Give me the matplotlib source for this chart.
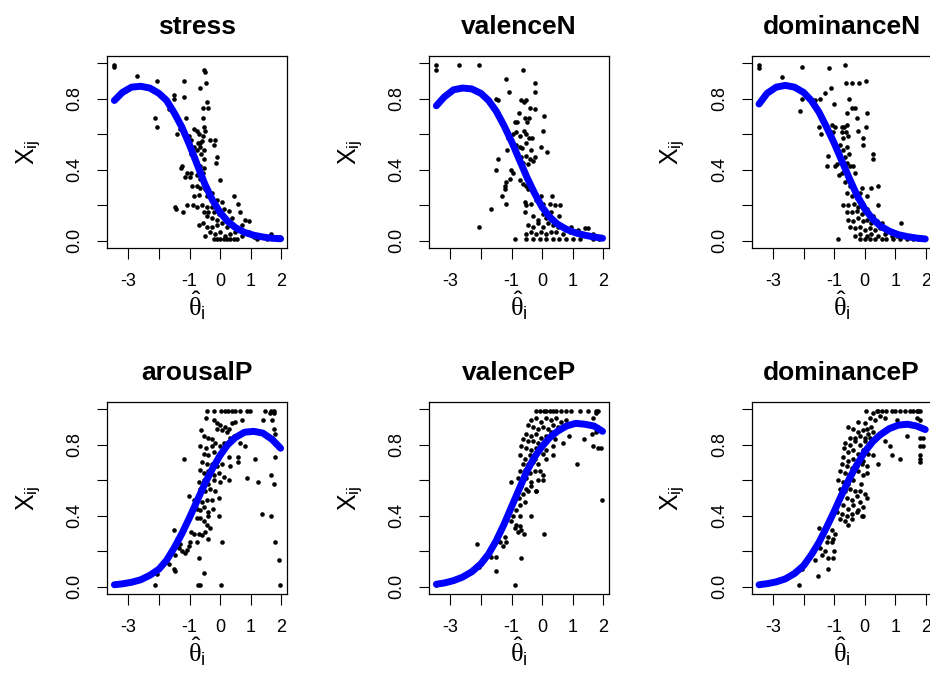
import matplotlib
matplotlib.use("Agg")
import matplotlib.pyplot as plt

plt.rcParams['font.family'] = ['Liberation Sans', 'DejaVu Sans']
plt.rcParams['mathtext.fontset'] = 'custom'
plt.rcParams['mathtext.rm'] = 'Liberation Sans'
plt.rcParams['mathtext.it'] = 'Liberation Serif'
plt.rcParams['mathtext.bf'] = 'Liberation Sans:bold'

titles = ["stress", "valenceN", "dominanceN", "arousalP", "valenceP", "dominanceP"]
x_ticks = [-3, -2, -1, 0, 1, 2]
x_ticklabels = ["-3", "", "-1", "0", "1", "2"]
y_ticks = [0.0, 0.2, 0.4, 0.6, 0.8, 1.0]
y_ticklabels = ["0.0", "", "0.4", "", "0.8", ""]

# ---- observed points ----
stress_x = [-3.48, -3.48, -2.72, -2.06, -1.19, -2.14, -2.06, -1.50, -1.50, -1.17, -1.12, -1.68, -1.41, -1.32, -1.28, -1.46, -1.43, -1.22,
            -0.54, -0.48, -0.45, -0.65, -0.56, -0.43, -0.40, -0.57,
            -0.84, -0.76, -0.70, -0.54, -0.48, -0.57, -1.03, -0.94,
            -0.72, -0.65, -0.58, -0.34, -0.16, -0.21,
            -0.86, -0.76, -0.65, -0.52, -0.94, -0.81, -0.61,
            -0.52, -0.10, -0.13, -0.65, -0.54,
            -1.25, -1.08, -0.94, -1.14, -0.97,
            -0.76, -0.65, -0.56, 0.01,
            -0.92, -0.76, -0.65, -0.48,
            -0.86, -0.70, -0.43,
            -0.27, -0.10, 0.06, 0.44,
            -1.08, -0.89, -0.76, -0.59, -0.43,
            -0.27, -0.10, 0.12, 0.28, 0.57,
            -0.54, -0.38, -0.21, -0.05,
            -0.43, -0.27, -0.10, 0.12, 0.22, 0.39, 0.66, 0.82,
            -0.70, -0.56, -0.43, -0.27, -0.10, 0.06, 0.22, 0.39, 0.50, 0.71, 0.93,
            -0.48, -0.32, -0.16, 0.01, 0.17, 0.33, 0.50, 0.71, 0.99,
            -0.21, -0.10, 0.01, 0.12, 0.22, 0.33, 0.44, 0.55,
            1.20, 1.37, 1.53, 1.67, 1.86, 1.97, 0.93, 1.10]
stress_y = [0.99, 0.98, 0.93, 0.90, 0.90, 0.69, 0.64, 0.82, 0.80, 0.81, 0.69, 0.74, 0.60, 0.63, 0.41, 0.19, 0.18, 0.16,
            0.96, 0.95, 0.89, 0.86, 0.75, 0.78, 0.75, 0.69,
            0.63, 0.62, 0.60, 0.64, 0.62, 0.59, 0.59, 0.57,
            0.55, 0.55, 0.56, 0.57, 0.57, 0.54,
            0.53, 0.51, 0.53, 0.51, 0.49, 0.47, 0.49,
            0.46, 0.47, 0.44, 0.42, 0.41,
            0.42, 0.38, 0.38, 0.36, 0.36,
            0.37, 0.35, 0.38, 0.34,
            0.31, 0.31, 0.30, 0.29,
            0.25, 0.26, 0.25,
            0.27, 0.23, 0.22, 0.25,
            0.20, 0.20, 0.19, 0.20, 0.19,
            0.19, 0.17, 0.18, 0.17, 0.21,
            0.16, 0.16, 0.16, 0.15,
            0.14, 0.13, 0.12, 0.13, 0.12, 0.13, 0.16, 0.12,
            0.09, 0.10, 0.08, 0.08, 0.09, 0.10, 0.08, 0.09, 0.07, 0.09, 0.11,
            0.03, 0.05, 0.04, 0.05, 0.03, 0.04, 0.05, 0.03, 0.04,
            0.01, 0.01, 0.01, 0.01, 0.01, 0.01, 0.01, 0.01,
            0.01, 0.02, 0.01, 0.04, 0.02, 0.02, 0.05, 0.02]

valenceN_x = [-3.48, -3.48, -2.72, -2.06, -0.63, -1.17, -0.22, -0.22, -1.08, -2.13, -1.50, -1.43, -1.44,
              -0.68, -0.60, -0.52, -0.39, -0.23, -0.76, 0.08,
              -0.90, -0.82, -0.55, -0.49, -0.44, 0.03,
              -0.95, -0.86, -0.73, -0.60, -0.52, -0.43, -0.32, -1.12, -1.04,
              -0.84, -0.73, -0.65, -0.52, -0.35, -0.05, 0.16, -1.15,
              -0.82, -0.68, -0.52, -0.41, -0.24,
              -0.63, -0.46, -0.30, -1.44, -1.50,
              -1.01, -0.95, -1.06, -1.19, -1.22, -1.22,
              -0.73, -0.63, -0.52, -0.46, -1.30, -1.19, -1.66, -2.06,
              -0.57, -0.52, -0.35, -0.19, -0.03, 0.03, 0.25, 0.33, 0.44, 0.59,
              -0.55, -0.30, -0.14, 0.03, 0.14, 0.30, 0.57,
              -0.46, -0.30, -0.14, 0.03, 0.19, 0.36, 0.52, 0.74, 0.95,
              -0.52, -0.35, -0.19, -0.03, 0.14, 0.30, 0.46, 0.68, 0.90, 1.17, 1.39, 1.50, 1.66,
              -0.90, -0.52, -0.30, -0.08, 0.14, 0.36, 0.57, 0.79, 1.01, 1.23, 1.66, 1.88]
valenceN_y = [0.99, 0.96, 0.99, 0.99, 0.96, 0.91, 0.89, 0.84, 0.84, 0.84, 0.80, 0.79, 0.72,
              0.79, 0.78, 0.79, 0.75, 0.74, 0.72, 0.70,
              0.67, 0.67, 0.69, 0.67, 0.69, 0.62,
              0.60, 0.61, 0.59, 0.62, 0.60, 0.58, 0.58, 0.58, 0.57,
              0.54, 0.53, 0.52, 0.55, 0.51, 0.53, 0.50, 0.51,
              0.48, 0.47, 0.48, 0.46, 0.47,
              0.44, 0.43, 0.45, 0.46, 0.40,
              0.40, 0.38, 0.35, 0.33, 0.31, 0.29,
              0.34, 0.32, 0.31, 0.29, 0.25, 0.21, 0.18, 0.08,
              0.22, 0.20, 0.21, 0.23, 0.25, 0.21, 0.21, 0.25, 0.20, 0.20,
              0.16, 0.14, 0.12, 0.15, 0.13, 0.16, 0.14,
              0.09, 0.08, 0.10, 0.08, 0.10, 0.09, 0.08, 0.08, 0.08,
              0.04, 0.05, 0.04, 0.05, 0.04, 0.05, 0.05, 0.04, 0.05, 0.06, 0.07, 0.07, 0.04,
              0.01, 0.01, 0.01, 0.01, 0.01, 0.01, 0.01, 0.01, 0.01, 0.01, 0.01, 0.01]

dominanceN_x = [-3.46, -3.46, -2.72, -2.04, -1.17, -0.65, -0.63, -0.43, -0.19, 0.03, -1.12, -1.30, -1.46, -1.63, -2.04, -2.12, -0.52, -1.01,
                -0.43, -0.32, -0.59, -0.24, 0.06,
                -1.49, -1.44, -1.08, -0.99, -1.03,
                -0.76, -0.67, -0.59, -0.76, -0.61, -0.70, -0.54,
                -0.21, -0.07, 0.04, -0.05,
                -0.81, -0.70, -0.59, -0.51, -0.65, -0.76, -0.59, -0.48,
                0.26, 0.26, -1.21, -0.92, -1.22, -0.99, -0.37, -0.32,
                -0.83, -0.76, -0.65, -0.54,
                -0.48, -0.37, -0.10, 0.22, 0.44,
                -0.59, -0.43, -0.27, -0.16, 0.06,
                -0.70, -0.54, -0.35, -0.21, -0.05, 0.06, 0.44,
                -0.59, -0.43, -0.27, -0.10, 0.01, 0.12, 0.28,
                -0.54, -0.37, -0.21, -0.05, 0.06, 0.22, 0.39, 0.55, 1.20,
                -0.48, -0.32, -0.16, 0.01, 0.17, 0.33, 0.50, 0.71,
                -0.32, -0.16, 0.06, 0.22, 0.44, 0.66, 0.88, 1.04,
                -0.89, -0.16, 0.01, 0.17, 0.33, 0.55, 0.71, 0.93, 1.15, 1.37, 1.59, 1.75]
dominanceN_y = [0.99, 0.97, 0.92, 0.98, 0.97, 0.99, 0.89, 0.89, 0.89, 0.90, 0.86, 0.83, 0.80, 0.79, 0.80, 0.73, 0.80, 0.77,
                0.75, 0.75, 0.72, 0.69, 0.72,
                0.64, 0.60, 0.65, 0.64, 0.61,
                0.64, 0.64, 0.65, 0.61, 0.61, 0.58, 0.59,
                0.62, 0.58, 0.64, 0.54,
                0.54, 0.51, 0.53, 0.49, 0.47, 0.46, 0.44, 0.42,
                0.49, 0.46, 0.48, 0.43, 0.42, 0.42, 0.42, 0.38,
                0.37, 0.38, 0.33, 0.35,
                0.31, 0.31, 0.30, 0.30, 0.31,
                0.27, 0.25, 0.24, 0.27, 0.25,
                0.20, 0.20, 0.21, 0.19, 0.21, 0.18, 0.20,
                0.16, 0.16, 0.17, 0.15, 0.16, 0.16, 0.14,
                0.12, 0.11, 0.13, 0.11, 0.12, 0.10, 0.11, 0.10, 0.10,
                0.08, 0.07, 0.08, 0.06, 0.07, 0.06, 0.07, 0.05,
                0.03, 0.04, 0.03, 0.04, 0.03, 0.04, 0.03, 0.03,
                0.01, 0.01, 0.01, 0.01, 0.01, 0.01, 0.01, 0.01, 0.01, 0.01, 0.01, 0.01]

arousalP_x = [-0.43, -0.19, 0.04, 0.15, 0.26, 0.39, 0.50, 0.66, 0.88, 0.99, 1.48, 1.66, 1.75, 1.64, 1.77,
              -0.45, 0.71, 1.42, 1.69,
              -0.21, -0.10, 0.01, 0.17, 0.28, 0.39, 0.50,
              -0.10, 0.06, 0.22, 0.44, 0.33,
              -0.63, -0.52, -0.38, -0.27, -0.16,
              1.75, 1.80,
              -0.65, -0.45, -0.27, 0.01, 0.12, 0.66, 0.80,
              -0.54, -0.38, -0.21, -0.05, 0.12, -1.19,
              0.28, 0.57, 1.15, 1.80,
              -0.59, -0.43, -0.27, -0.10, 0.06, 0.33, 0.57,
              -0.65, -0.52, -0.38, -0.21, -0.05, 0.12,
              1.66, 0.88, 1.23, 1.75,
              -0.70, -0.54, -0.38, -0.21, 0.01, 0.28,
              -0.65, -0.48, -0.32, -0.16,
              -1.03, -0.86, -0.76, -0.59, -0.43, -0.27, -0.05,
              -0.76, -0.65, -0.52, -0.38, -0.24, 1.37, 1.66, -0.05,
              -0.76, -0.65, -0.54, -0.43, -0.38,
              -0.95, -0.86, -0.70, -0.59, -0.48, -0.34, -1.50,
              -1.41, -1.30, -1.00, -0.76, -0.40, 0.05, 1.80,
              -1.25, -1.14, -1.08, -1.03, -1.46, -1.35,
              -1.68, -1.52, -1.46, -0.70, -0.54, 1.93, -2.06,
              -2.12, -0.72, -0.67, 0.04, 1.97]
arousalP_y = [0.99, 0.99, 0.99, 0.99, 0.99, 0.99, 0.99, 0.99, 0.99, 0.99, 0.99, 0.99, 0.99, 0.98, 0.98,
              0.95, 0.94, 0.94, 0.94,
              0.94, 0.92, 0.91, 0.90, 0.89, 0.92, 0.93,
              0.89, 0.88, 0.87, 0.85, 0.84,
              0.88, 0.85, 0.84, 0.83, 0.81,
              0.89, 0.86,
              0.79, 0.78, 0.79, 0.79, 0.81, 0.81, 0.79,
              0.75, 0.74, 0.76, 0.73, 0.77, 0.72,
              0.73, 0.73, 0.72, 0.73,
              0.70, 0.69, 0.69, 0.68, 0.69, 0.68, 0.70,
              0.66, 0.64, 0.65, 0.63, 0.64, 0.62,
              0.63, 0.61, 0.59, 0.58,
              0.59, 0.60, 0.58, 0.60, 0.59, 0.60,
              0.55, 0.54, 0.55, 0.54,
              0.51, 0.49, 0.49, 0.48, 0.49, 0.49, 0.50,
              0.44, 0.43, 0.45, 0.42, 0.44, 0.41, 0.40, 0.40,
              0.39, 0.39, 0.37, 0.35, 0.40,
              0.31, 0.30, 0.30, 0.29, 0.31, 0.33, 0.32,
              0.27, 0.24, 0.25, 0.25, 0.27, 0.25, 0.25,
              0.20, 0.19, 0.21, 0.23, 0.18, 0.22,
              0.13, 0.10, 0.09, 0.16, 0.08, 0.15, 0.07,
              0.01, 0.01, 0.01, 0.01, 0.01]

valenceP_x = [-0.19, -0.06, 0.05, 0.14, 0.25, 0.36, 0.46, 0.63, 0.79, 0.95, 1.23, 1.50, 1.75, 1.83, 1.77,
              -0.35, -0.19, -0.03, 0.14, 0.30, 0.46, 0.63, 0.79, 1.66,
              -0.46, -0.30, -0.14, 0.03, 0.19, 0.36, 0.52,
              1.83, 1.64, 1.77,
              -0.52, -0.35, -0.19, -0.03, 0.14, 0.30,
              0.88, 1.36,
              -0.63, -0.46, -0.30, -0.14, 0.03, 0.41,
              0.68, 0.36,
              1.66, 1.83, 1.93,
              -0.68, -0.52, -0.35, -0.19, 0.03, 0.14,
              -0.73, -0.57, -0.41, -0.24, 0.36,
              -0.63, -0.46, -0.30, -0.14, 0.12,
              1.15,
              -0.73, -0.57, -0.41, -0.24, -0.08, 0.03,
              -0.79, -0.64, -0.52, -0.35, -0.14, 0.03,
              -1.01,
              -0.68, -0.52, -0.35, -0.19,
              -0.64, -0.46, -0.21,
              -0.76, -0.73, -0.57, -0.35,
              1.97,
              -0.95, -0.84, -0.73, -1.01,
              -0.84, -0.73, -0.79, -0.68, -0.60, -0.90,
              0.05,
              -1.22, -1.17, -1.28, -1.39, -1.44,
              -2.13, -1.66, -1.50, -0.69, -2.06, -1.50, -2.72, -0.90, -3.48]
valenceP_y = [0.99, 0.99, 0.99, 0.99, 0.99, 0.99, 0.99, 0.99, 0.99, 0.99, 0.99, 0.99, 0.99, 0.99, 0.98,
              0.94, 0.95, 0.93, 0.95, 0.94, 0.95, 0.93, 0.94, 0.95,
              0.91, 0.90, 0.89, 0.90, 0.89, 0.91, 0.90,
              0.90, 0.86, 0.87,
              0.86, 0.85, 0.86, 0.84, 0.85, 0.87,
              0.85, 0.83,
              0.83, 0.82, 0.82, 0.81, 0.81, 0.83,
              0.81, 0.79,
              0.79, 0.78, 0.78,
              0.79, 0.78, 0.77, 0.78, 0.75, 0.77,
              0.74, 0.72, 0.74, 0.72, 0.74,
              0.69, 0.69, 0.70, 0.69, 0.72,
              0.69,
              0.65, 0.66, 0.64, 0.65, 0.65, 0.63,
              0.61, 0.60, 0.61, 0.59, 0.60, 0.60,
              0.59,
              0.57, 0.55, 0.57, 0.54,
              0.52, 0.54, 0.54,
              0.50, 0.46, 0.48, 0.40,
              0.49,
              0.40, 0.43, 0.40, 0.37,
              0.35, 0.34, 0.31, 0.32, 0.30, 0.33,
              0.30,
              0.28, 0.25, 0.23, 0.25, 0.26,
              0.24, 0.17, 0.17, 0.16, 0.11, 0.09, 0.05, 0.01, 0.01]

dominanceP_x = [0.03, 0.39, 0.55, 0.71, 0.88, 0.99, 1.15, 1.31, 1.48, 1.59, 1.70, 1.80,
                0.28, 0.44, 1.75,
                0.17, 0.33, 0.50, 0.66, 1.04, 1.70, 1.80,
                -0.21, 0.01, 0.06, 0.22,
                -0.54, -0.37, -0.21, -0.05, 0.12, 0.28,
                1.37, 1.80, 1.91,
                -0.48, -0.32, -0.16, 0.01, 0.17,
                -0.65, -0.48, -0.32, -0.16, 0.01, 0.17, 0.66, 0.82,
                1.80, 1.91, -0.68, -0.54, -0.37, -0.21, -0.05, 0.12,
                0.28, 0.88, 1.15, 1.80, 1.80,
                -0.70, -0.54, -0.37, -0.21, -0.05,
                0.44, 1.80,
                -0.76, -0.59, -0.43, -0.27, -0.10, 0.06,
                -0.81, -0.65, -0.51, -0.21, -0.05, 0.06,
                -0.87, -0.70, -0.54, -0.37, -0.13,
                -0.81, -0.65, -0.48, -0.32, -0.16, 0.01,
                -0.81, -0.59, -0.43, -0.27, -0.16, 0.06,
                -0.87, -0.70, -0.54, -0.37, -0.21, -0.05,
                -0.92, -0.76, -0.59, -0.43, -0.27, -0.10, -0.05,
                -0.81, -0.65, -0.54, -0.43,
                -1.49,
                -1.08, -0.97, -1.19, -1.03, -1.25, -1.08,
                -1.46, -1.30, -1.01, -1.41, -1.19, -1.03,
                -1.63, -2.06, -1.19, -1.52,
                -2.14]
dominanceP_y = [0.99, 0.99, 0.99, 0.99, 0.99, 0.99, 0.99, 0.99, 0.99, 0.99, 0.99, 0.99,
                0.98, 0.99, 0.99,
                0.95, 0.94, 0.96, 0.95, 0.94, 0.95, 0.94,
                0.93, 0.92, 0.89, 0.90,
                0.90, 0.89, 0.87, 0.88, 0.86, 0.87,
                0.85, 0.84, 0.84,
                0.84, 0.84, 0.85, 0.84, 0.84,
                0.81, 0.80, 0.82, 0.80, 0.82, 0.80, 0.82, 0.79,
                0.79, 0.79, 0.78, 0.76, 0.77, 0.75, 0.77, 0.75,
                0.74, 0.74, 0.72, 0.74, 0.72,
                0.73, 0.71, 0.72, 0.70, 0.71,
                0.69, 0.70,
                0.69, 0.68, 0.67, 0.68, 0.69, 0.68,
                0.65, 0.64, 0.63, 0.65, 0.63, 0.64,
                0.60, 0.59, 0.58, 0.60, 0.58,
                0.55, 0.54, 0.55, 0.54, 0.54, 0.52,
                0.51, 0.50, 0.49, 0.51, 0.48, 0.50,
                0.47, 0.46, 0.44, 0.46, 0.43, 0.45,
                0.42, 0.41, 0.40, 0.41, 0.42, 0.40, 0.40,
                0.38, 0.37, 0.35, 0.38,
                0.33,
                0.32, 0.30, 0.28, 0.27, 0.25, 0.25,
                0.22, 0.20, 0.20, 0.18, 0.16, 0.16,
                0.15, 0.10, 0.10, 0.06,
                0.01]

# ---- fitted curves ----
curve_x = [-3.46, -3.2, -2.9, -2.6, -2.3, -2.0, -1.75, -1.5, -1.25, -1.0, -0.75, -0.5, -0.25,
           0.0, 0.25, 0.5, 0.8, 1.1, 1.4, 1.7, 1.98]
stress_cy = [0.79, 0.835, 0.865, 0.87, 0.86, 0.83, 0.79, 0.72, 0.64, 0.54, 0.43, 0.32, 0.23,
             0.16, 0.11, 0.075, 0.048, 0.032, 0.022, 0.015, 0.012]
valenceN_cy = [0.76, 0.81, 0.85, 0.86, 0.855, 0.83, 0.79, 0.73, 0.65, 0.56, 0.46, 0.36, 0.27,
               0.19, 0.135, 0.095, 0.065, 0.045, 0.032, 0.022, 0.015]
dominanceN_cy = [0.77, 0.83, 0.865, 0.875, 0.865, 0.835, 0.79, 0.725, 0.64, 0.55, 0.45, 0.35, 0.255,
                 0.18, 0.125, 0.085, 0.055, 0.035, 0.024, 0.016, 0.011]
arousalP_cy = [0.012, 0.017, 0.026, 0.04, 0.065, 0.10, 0.15, 0.22, 0.30, 0.39, 0.485, 0.58, 0.665,
               0.74, 0.80, 0.84, 0.87, 0.875, 0.865, 0.83, 0.78]
valenceP_cy = [0.015, 0.022, 0.035, 0.055, 0.085, 0.13, 0.185, 0.26, 0.35, 0.45, 0.55, 0.65, 0.73,
               0.79, 0.84, 0.875, 0.905, 0.92, 0.915, 0.905, 0.875]
dominanceP_cy = [0.012, 0.018, 0.028, 0.045, 0.075, 0.12, 0.18, 0.25, 0.335, 0.425, 0.52, 0.61, 0.69,
                 0.76, 0.815, 0.855, 0.89, 0.91, 0.915, 0.905, 0.885]

points = [(stress_x, stress_y), (valenceN_x, valenceN_y), (dominanceN_x, dominanceN_y),
          (arousalP_x, arousalP_y), (valenceP_x, valenceP_y), (dominanceP_x, dominanceP_y)]
curves = [stress_cy, valenceN_cy, dominanceN_cy, arousalP_cy, valenceP_cy, dominanceP_cy]

fig = plt.figure(figsize=(9.3, 6.76), dpi=100)
lefts = [0.1151, 0.4613, 0.8083]
bottoms = [0.6331, 0.1213]

for k, title in enumerate(titles):
    r, c = divmod(k, 3)
    ax = fig.add_axes([lefts[c], bottoms[r], 0.1935, 0.284])
    px, py = points[k]
    ax.plot(px, py, 'o', color='black', ms=3.3, mec='none')
    ax.plot(curve_x, curves[k], color='#0000ff', lw=5, solid_capstyle='round', solid_joinstyle='round')
    ax.set_xlim(-3.70, 2.19)
    ax.set_ylim(-0.04, 1.04)
    ax.set_xticks(x_ticks)
    ax.set_xticklabels(x_ticklabels, fontsize=13)
    ax.set_yticks(y_ticks)
    ax.set_yticklabels(y_ticklabels, fontsize=13, rotation=90, va='center')
    ax.tick_params(axis='x', length=8, width=0.8, pad=10)
    ax.tick_params(axis='y', length=7, width=0.8, pad=10)
    for s in ax.spines.values():
        s.set_linewidth(0.9)
    ax.set_title(title, fontsize=19, fontweight='bold', pad=16)
    ax.set_xlabel(r'$\hat{\theta}_{\mathrm{i}}$', fontsize=19, labelpad=0)
    ax.set_ylabel(r'X$_{\mathrm{ij}}$', fontsize=18, labelpad=17)

fig.savefig("out.png", dpi=100)
